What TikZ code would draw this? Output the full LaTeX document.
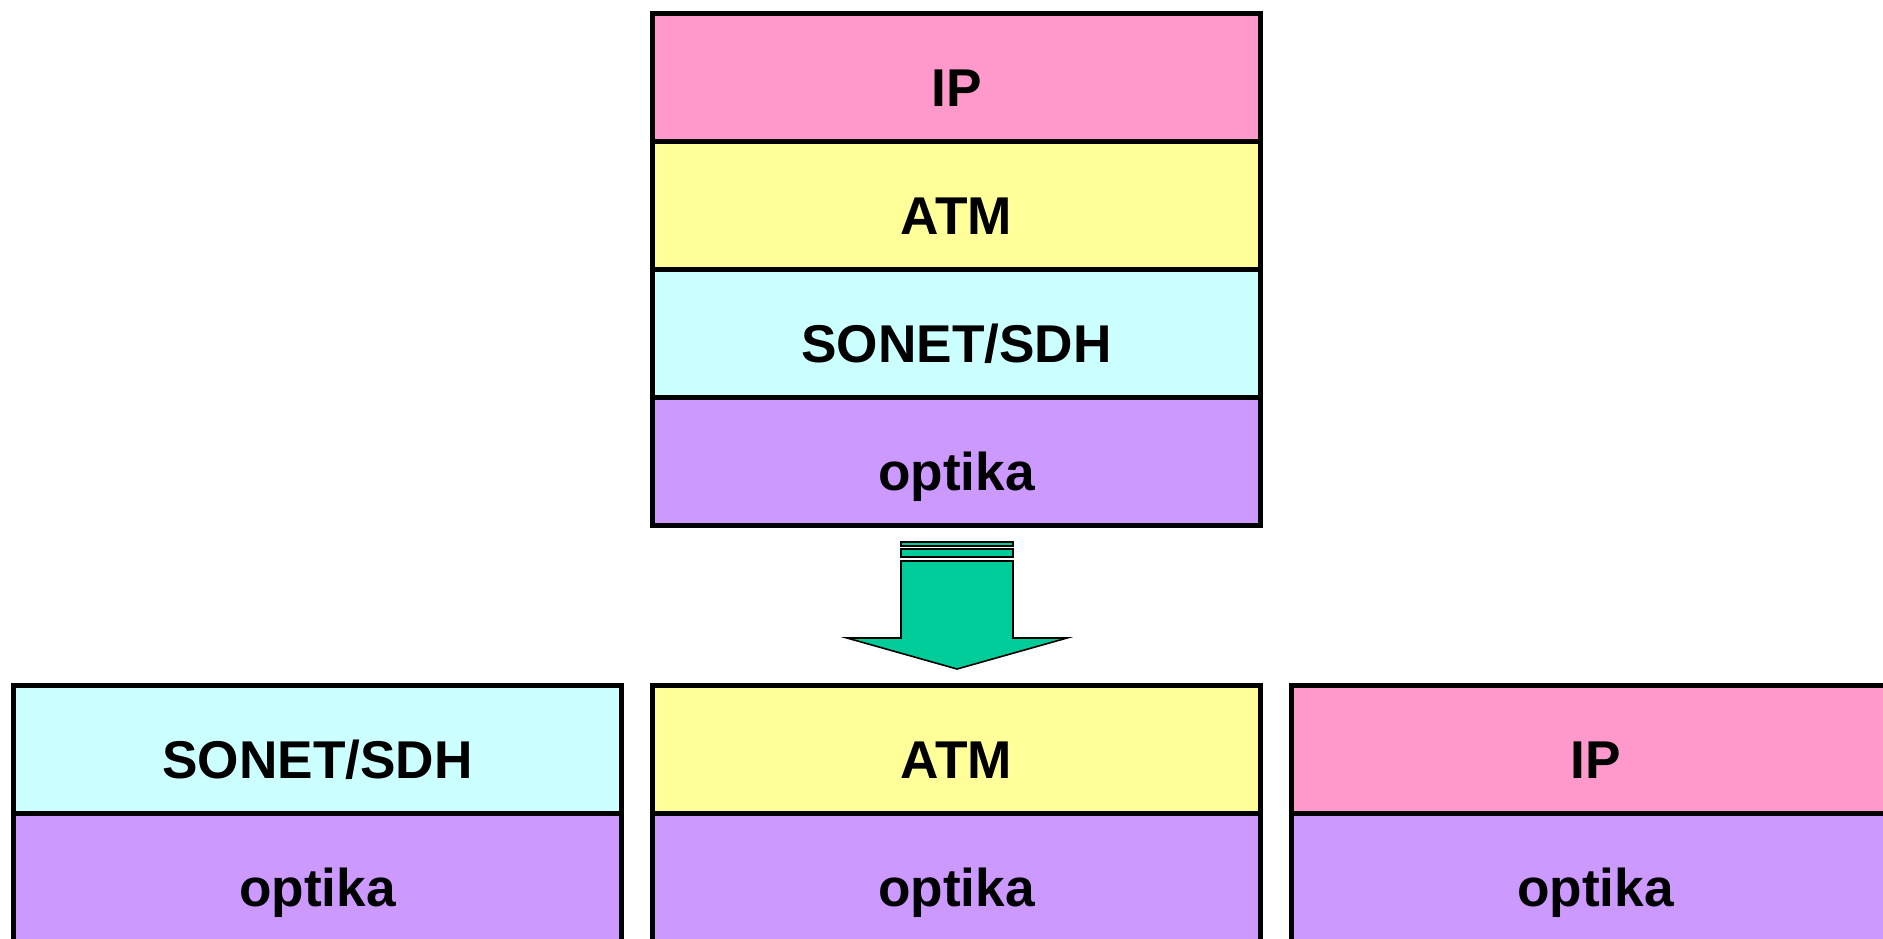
\documentclass[tikz,border=0pt]{standalone}
\usepackage{fontspec}
\setmainfont{Liberation Sans}
\usetikzlibrary{positioning}

\definecolor{ipcol}{HTML}{FF99CC}
\definecolor{atmcol}{HTML}{FFFF99}
\definecolor{sdhcol}{HTML}{CCFFFF}
\definecolor{optcol}{HTML}{CC99FF}
\definecolor{arrcol}{HTML}{00CC99}

\tikzset{
    layer/.style={draw, line width=2.2pt, rectangle, outer sep=0pt, inner sep=0pt,
        minimum width=304pt, minimum height=64pt,
        font=\fontsize{26.6}{32}\selectfont\bfseries,
        text height=29pt, text depth=0pt},
    arrowbox/.style={draw, line width=0.8pt, fill=arrcol, line join=miter}
}

\begin{document}
\begin{tikzpicture}[x=0.5pt, y=-0.5pt]
    \useasboundingbox (0,0) rectangle (1883,938);
    \clip (0,0) rectangle (1883,938);

    % sloj iznad
    \node [layer, fill=ipcol] (ip) at (956.5,77.5) {IP};
    \node [layer, fill=atmcol, below=0pt of ip] (atm) {ATM};
    \node [layer, fill=sdhcol, below=0pt of atm] (sdh) {SONET/SDH};
    \node [layer, fill=optcol, below=0pt of sdh] (opt) {optika};

    % tri odvojena sloja
    \node [layer, fill=atmcol] (atmB) at (956.5,749.5) {ATM};
    \node [layer, fill=optcol, below=0pt of atmB] (optB) {optika};
    \node [layer, fill=sdhcol, left=15.5pt of atmB] (sdhA) {SONET/SDH};
    \node [layer, fill=optcol, below=0pt of sdhA] (optA) {optika};
    \node [layer, fill=ipcol, right=15.5pt of atmB] (ipC) {IP};
    \node [layer, fill=optcol, below=0pt of ipC] (optC) {optika};

    % strelica
    \draw [arrowbox] (901,542) rectangle (1013,546);
    \draw [arrowbox] (901,549) rectangle (1013,557);
    \draw [arrowbox] (901,561) -- (1013,561) -- (1013,638) -- (1067,638)
        -- (957,669) -- (847,638) -- (901,638) -- cycle;
\end{tikzpicture}
\end{document}
